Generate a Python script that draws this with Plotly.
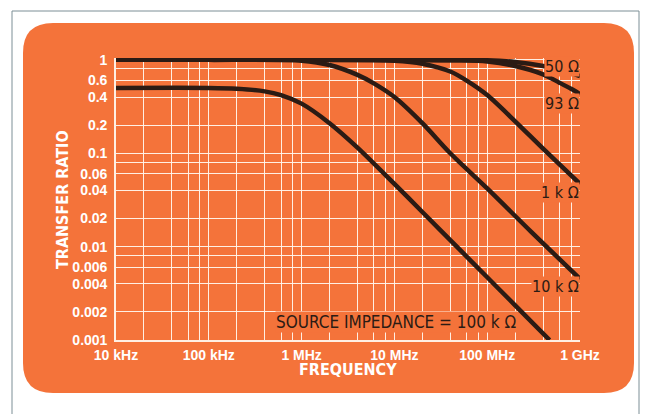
"""Transfer ratio vs frequency for several source impedances."""

import plotly.graph_objects as go

# ---- data ----
freq_50 = [1e4, 1e7, 1e8, 2e8, 4e8, 6e8, 8e8, 1e9]
ratio_50 = [1.0, 1.0, 0.99, 0.95, 0.86, 0.78, 0.72, 0.67]

freq_93 = [1e4, 1e7, 5e7, 1e8, 2e8, 4e8, 6e8, 8e8, 1e9]
ratio_93 = [1.0, 1.0, 0.99, 0.96, 0.86, 0.70, 0.57, 0.49, 0.43]

freq_1k = [1e4, 1e6, 1e7, 2e7, 4e7, 6e7, 1e8, 2e8, 4e8, 1e9]
ratio_1k = [1.0, 1.0, 0.98, 0.91, 0.75, 0.60, 0.42, 0.22, 0.112, 0.047]

freq_10k = [1e4, 1e5, 1e6, 2e6, 4e6, 6e6, 1e7, 2e7, 4e7, 1e8, 3e8, 1e9]
ratio_10k = [1.0, 1.0, 0.98, 0.88, 0.69, 0.56, 0.40, 0.21, 0.10, 0.042, 0.0143, 0.0045]

freq_100k = [1e4, 1e5, 2e5, 4e5, 6e5, 1e6, 2e6, 4e6, 1e7, 2e7, 5e7, 1e8, 2e8, 4.7e8]
ratio_100k = [0.5, 0.5, 0.49, 0.46, 0.42, 0.34, 0.21, 0.115, 0.047, 0.0235, 0.0094, 0.0047, 0.00235, 0.001]

freq_label_vals = [1e4, 1e5, 1e6, 1e7, 1e8, 1e9]
freq_labels = ["10 kHz", "100 kHz", "1 MHz", "10 MHz", "100 MHz", "1 GHz"]
ratio_label_vals = [1, 0.6, 0.4, 0.2, 0.1, 0.06, 0.04, 0.02, 0.01, 0.006, 0.004, 0.002, 0.001]
ratio_labels = ["1", "0.6", "0.4", "0.2", "0.1", "0.06", "0.04", "0.02",
                "0.01", "0.006", "0.004", "0.002", "0.001"]

# ---- styling ----
ORANGE = "#F4733A"
INK = "#2B1B14"
GRID = "rgba(255,246,236,0.95)"
NARROW = "DejaVu Sans Condensed, Liberation Sans, sans-serif"
TICKFONT = "Liberation Sans, Arial, sans-serif"

W, H = 649, 414
PLOT_L, PLOT_R, PLOT_T, PLOT_B = 116, 580, 58, 340


def px_x(px):
    return (px - PLOT_L) / (PLOT_R - PLOT_L)


def px_y(py):
    return (PLOT_B - py) / (PLOT_B - PLOT_T)


def rounded_rect(x0, y0, x1, y1, r):
    # pixel box -> paper path with quadratic corners
    L, R, T, B = px_x(x0), px_x(x1), px_y(y0), px_y(y1)
    rx = r / (PLOT_R - PLOT_L)
    ry = r / (PLOT_B - PLOT_T)
    return (f"M {L + rx},{T} L {R - rx},{T} Q {R},{T} {R},{T - ry} "
            f"L {R},{B + ry} Q {R},{B} {R - rx},{B} "
            f"L {L + rx},{B} Q {L},{B} {L},{B + ry} "
            f"L {L},{T - ry} Q {L},{T} {L + rx},{T} Z")


def grid_positions(lo_exp, hi_exp):
    vals = []
    for e in range(lo_exp, hi_exp):
        for m in (1, 2, 4, 6, 8):
            vals.append(m * 10 ** e)
    vals.append(10 ** hi_exp)
    return vals


def tick_texts(vals, label_vals, labels):
    lookup = {round(v, 12): t for v, t in zip(label_vals, labels)}
    return [lookup.get(round(v, 12), "") for v in vals]


x_grid = grid_positions(4, 9)
y_grid = grid_positions(-3, 0)

fig = go.Figure()
for fx, ry in [(freq_50, ratio_50), (freq_93, ratio_93), (freq_1k, ratio_1k),
               (freq_10k, ratio_10k), (freq_100k, ratio_100k)]:
    fig.add_trace(go.Scatter(
        x=fx, y=ry, mode="lines",
        line=dict(color=INK, width=4.5, shape="spline", smoothing=0.8),
        showlegend=False, hoverinfo="skip",
    ))

fig.update_xaxes(
    type="log", range=[4, 9],
    tickmode="array", tickvals=x_grid,
    ticktext=tick_texts(x_grid, freq_label_vals, freq_labels),
    showgrid=True, gridcolor=GRID, gridwidth=1.4,
    showline=True, linecolor=GRID, linewidth=1.6,
    ticks="", tickfont=dict(family=TICKFONT, size=14, color="white", weight="bold"),
    ticklabelstandoff=1,
)
fig.update_yaxes(
    type="log", range=[-3, 0.02],
    tickmode="array", tickvals=y_grid,
    ticktext=tick_texts(y_grid, ratio_label_vals, ratio_labels),
    showgrid=True, gridcolor=GRID, gridwidth=1.4,
    showline=True, linecolor=GRID, linewidth=1.6,
    ticks="", tickfont=dict(family=TICKFONT, size=14, color="white", weight="bold"),
    ticklabelstandoff=4,
)

shapes = [
    dict(type="rect", xref="paper", yref="paper", layer="below",
         x0=px_x(12), x1=px_x(639), y0=px_y(440), y1=px_y(11),
         line=dict(color="#7d8f96", width=1), fillcolor="white"),
    dict(type="path", xref="paper", yref="paper", layer="below",
         path=rounded_rect(23, 23, 634, 393, 30),
         line=dict(width=0), fillcolor=ORANGE),
]

label_font = dict(family=NARROW, size=16, color=INK)
annotations = [
    dict(x=9, y=-0.075, text="50 Ω"),
    dict(x=9, y=-0.47, text="93 Ω"),
    dict(x=9, y=-1.425, text="1 k Ω"),
    dict(x=9, y=-2.43, text="10 k Ω"),
    dict(x=8.33, y=-2.81, text="SOURCE IMPEDANCE = 100 k Ω", font=dict(family=NARROW, size=17, color=INK)),
]
for a in annotations:
    a.update(xref="x", yref="y", xanchor="right", yanchor="middle", showarrow=False,
             bgcolor=ORANGE, borderpad=0)
    a.setdefault("font", label_font)

annotations += [
    dict(xref="paper", yref="paper", x=px_x(62), y=px_y(200), text="TRANSFER RATIO",
         textangle=-90, showarrow=False, xanchor="center", yanchor="middle",
         font=dict(family=NARROW, size=16, color="white", weight="bold")),
    dict(xref="paper", yref="paper", x=px_x(348), y=px_y(369), text="FREQUENCY",
         showarrow=False, xanchor="center", yanchor="middle",
         font=dict(family=NARROW, size=16, color="white", weight="bold")),
]

fig.update_layout(
    width=W, height=H,
    margin=dict(l=PLOT_L, r=W - PLOT_R, t=PLOT_T, b=H - PLOT_B),
    paper_bgcolor="white", plot_bgcolor="rgba(0,0,0,0)",
    shapes=shapes, annotations=annotations,
)

fig.write_html("out.html", config={"displayModeBar": False},
               post_script="document.body.style.margin='0';")
